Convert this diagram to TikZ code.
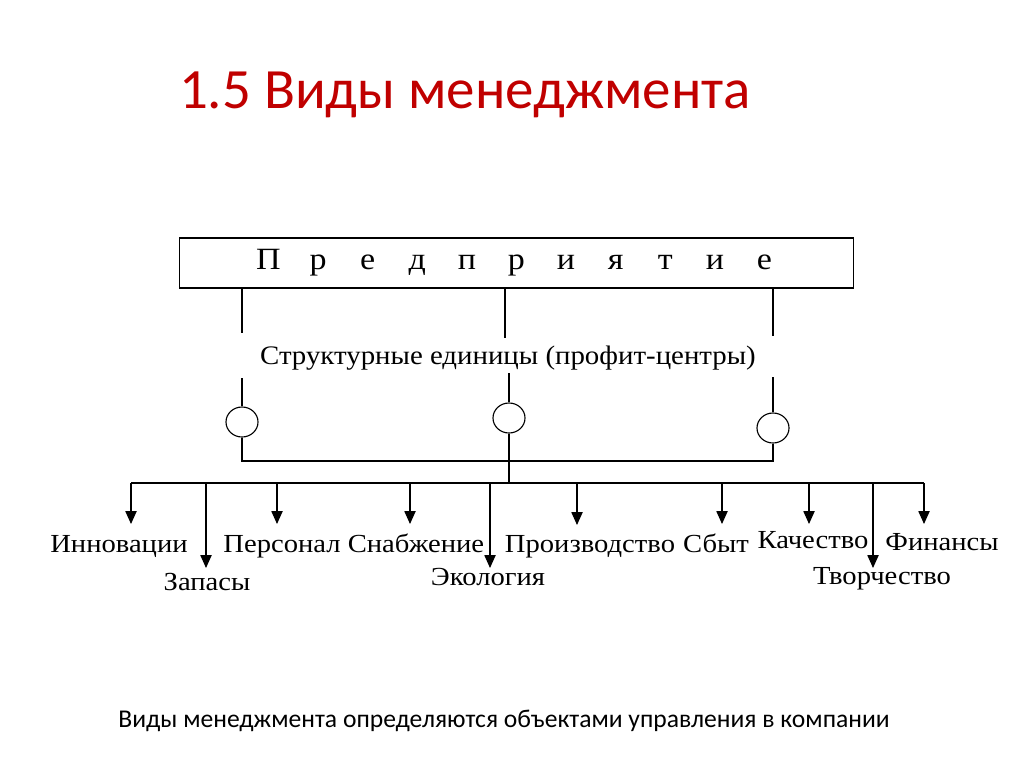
\documentclass[tikz,border=0pt]{standalone}
\usepackage{fontspec}
\usetikzlibrary{arrows.meta,shapes.geometric}
\newfontfamily\dfont[FakeStretch=1.1]{Liberation Serif}
\newfontfamily\sfontd[FakeStretch=1.08]{Liberation Serif}
\newfontfamily\tfont{Carlito}
\definecolor{titlered}{RGB}{192,0,0}
\newcommand{\lsp}[1]{\makebox[1.24cm]{#1}}
\begin{document}
\begin{tikzpicture}[x=0.025cm,y=-0.025cm,
  ln/.style={line width=0.8pt},
  arr/.style={line width=0.8pt,-{Triangle[length=0.32cm,width=0.28cm]}},
  lbl/.style={font=\dfont\fontsize{18.5pt}{22pt}\selectfont,inner sep=0pt,anchor=base},
  unit/.style={draw,line width=0.8pt,ellipse,minimum width=0.8cm,minimum height=0.75cm,inner sep=0pt}]
\fill[white] (0,0) rectangle (1024,767);
\useasboundingbox (0,0) rectangle (1024,767);

\node[font=\tfont\fontsize{40.5pt}{48pt}\selectfont,text=titlered,anchor=base] (title) at (465,109) {1.5 Виды менеджмента};

\node[draw,line width=0.8pt,minimum width=16.825cm,minimum height=1.25cm,inner sep=0pt] (ent) at (516.5,263)
  {\dfont\fontsize{22pt}{26pt}\selectfont\lsp{П}\lsp{р}\lsp{е}\lsp{д}\lsp{п}\lsp{р}\lsp{и}\lsp{я}\lsp{т}\lsp{и}\lsp{е}};

\node[lbl,font=\sfontd\fontsize{19pt}{22pt}\selectfont] (su) at (508,364) {Структурные единицы (профит-центры)};

\coordinate (u1) at (242,333);
\coordinate (u2) at (505,338);
\coordinate (u3) at (773,336);
\coordinate (l1) at (242,378);
\coordinate (l2) at (509,373);
\coordinate (l3) at (773,377);

\node[unit] (c1) at (242,422) {};
\node[unit] (c2) at (509,418) {};
\node[unit] (c3) at (773,428) {};

\draw[ln] (ent.south -| u1) -- (u1);
\draw[ln] (ent.south -| u2) -- (u2);
\draw[ln] (ent.south -| u3) -- (u3);
\draw[ln] (l1) -- (c1.north);
\draw[ln] (l2) -- (c2.north);
\draw[ln] (l3) -- (c3.north);

\coordinate (jl) at (242,461);
\coordinate (jr) at (773,461);
\coordinate (jm) at (509,483);
\coordinate (busL) at (131,483);
\coordinate (busR) at (924,483);
\draw[ln] (c1.south) -- (jl) -- (jr) -- (c3.south);
\draw[ln] (c2.south) -- (jm);
\draw[ln] (busL) -- (busR);

% labels
\node[lbl] (n1) at (119,552) {Инновации};
\node[lbl] (n2) at (207,590) {Запасы};
\node[lbl] (n3) at (282,552) {Персонал};
\node[lbl] (n4) at (416,552) {Снабжение};
\node[lbl] (n5) at (488,585) {Экология};
\node[lbl] (n6) at (590,552) {Производство};
\node[lbl] (n7) at (716,552) {Сбыт};
\node[lbl] (n8) at (813,548) {Качество};
\node[lbl] (n9) at (882,584) {Творчество};
\node[lbl] (n10) at (942,550) {Финансы};

% arrow tips
\coordinate (t1) at (131,524);
\coordinate (t2) at (206,568);
\coordinate (t3) at (277,524);
\coordinate (t4) at (410,524);
\coordinate (t5) at (490,568);
\coordinate (t6) at (577,525);
\coordinate (t7) at (722,524);
\coordinate (t8) at (809,524);
\coordinate (t9) at (873,568);
\coordinate (t10) at (924,524);
\foreach \t in {t1,t2,t3,t4,t5,t6,t7,t8,t9,t10}
  \draw[arr] (\t |- busL) -- (\t);

\node[font=\tfont\fontsize{18.2pt}{22pt}\selectfont,anchor=base] (cap) at (504,727) {Виды менеджмента определяются объектами управления в компании};
\end{tikzpicture}
\end{document}
